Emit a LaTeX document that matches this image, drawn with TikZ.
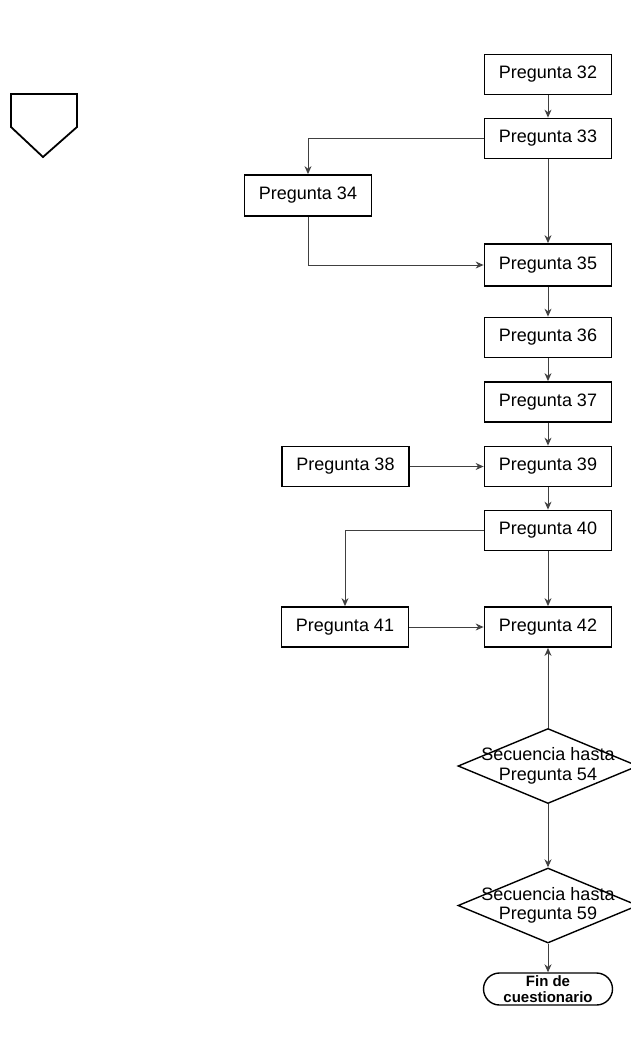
\documentclass[tikz,border=0pt]{standalone}
\usepackage{fontspec}
\setmainfont{Liberation Sans}
\usetikzlibrary{shapes.geometric,arrows.meta}
\begin{document}
\begin{tikzpicture}[x=1pt,y=-1pt,
  box/.style={draw=black,line width=1.8pt,minimum width=127pt,minimum height=40pt,inner sep=0pt,font=\fontsize{18}{21}\selectfont},
  dia/.style={draw=black,line width=1.4pt,diamond,minimum width=180pt,minimum height=75pt,inner sep=0pt},
  diatext/.style={align=center,inner sep=0pt,font=\fontsize{18}{19.5}\selectfont},
  term/.style={draw=black,line width=1.4pt,rectangle,rounded corners=16pt,minimum width=129pt,minimum height=32pt,inner sep=0pt,align=center,font=\bfseries\fontsize{15}{15.5}\selectfont},
  conn/.style={draw=black!75,line width=1pt,-{Stealth[length=8pt,width=7pt]}}]
\useasboundingbox[fill=white] (0,0) rectangle (631,1042);
% pentagon
\draw[line width=1.8pt,line join=miter] (11,94) -- (77,94) -- (77,127) -- (43,157) -- (11,127) -- cycle;
% boxes
\node[box] (p32) at (548,74.5) {Pregunta 32};
\node[box] (p33) at (548,138.5) {Pregunta 33};
\node[box,minimum height=41pt] (p34) at (308,195.5) {Pregunta 34};
\node[box,minimum height=42pt] (p35) at (548,265) {Pregunta 35};
\node[box] (p36) at (548,337.5) {Pregunta 36};
\node[box] (p37) at (548,402) {Pregunta 37};
\node[box] (p38) at (345.5,466.5) {Pregunta 38};
\node[box] (p39) at (548,466.5) {Pregunta 39};
\node[box] (p40) at (548,530.5) {Pregunta 40};
\node[box] (p41) at (345,627) {Pregunta 41};
\node[box] (p42) at (548,627) {Pregunta 42};
\node[dia] (d54) at (548,766) {};
\node[diatext] (t54) at (d54.center) {Secuencia hasta\\Pregunta 54};
\node[dia] (d59) at (548,905.5) {};
\node[diatext] (t59) at (d59.center) {Secuencia hasta\\Pregunta 59};
\node[term] (fin) at (548,989) {Fin de\\cuestionario};
% connectors
\draw[conn] (p32) -- (p33);
\draw[conn] (p33.west) -| (p34.north);
\draw[conn] (p33) -- (p35);
\draw[conn] (p34.south) |- (p35.west);
\draw[conn] (p35) -- (p36);
\draw[conn] (p36) -- (p37);
\draw[conn] (p37) -- (p39);
\draw[conn] (p38) -- (p39);
\draw[conn] (p39) -- (p40);
\draw[conn] (p40.west) -| (p41.north);
\draw[conn] (p40) -- (p42);
\draw[conn] (p41) -- (p42);
\draw[conn] (d54.north) -- (p42.south);
\draw[conn] (d54.south) -- (d59.north);
\draw[conn] (d59.south) -- (fin.north);
\end{tikzpicture}
\end{document}
